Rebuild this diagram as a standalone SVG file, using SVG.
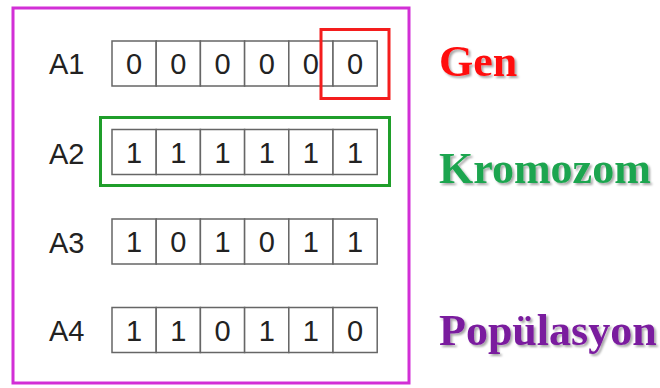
<svg xmlns="http://www.w3.org/2000/svg" width="660" height="388" viewBox="0 0 660 388">
<style>
.cell{fill:#fff;stroke:#666;stroke-width:1.5}
.dig{font-family:"Liberation Sans",Arial,sans-serif;font-size:29px;fill:#222;text-anchor:middle}
.lab{font-family:"Liberation Sans",Arial,sans-serif;font-size:29px;fill:#222}
.big{font-family:"Liberation Serif","Times New Roman",serif;font-size:44px;font-weight:bold;filter:url(#sh)}
</style>
<defs>
<filter id="sh" x="-10%" y="-20%" width="130%" height="150%">
<feDropShadow dx="2" dy="2" stdDeviation="1.2" flood-color="#000" flood-opacity="0.35"/>
</filter>
</defs>
<rect id="population" x="13" y="8" width="396" height="375" fill="none" stroke="#d22fd6" stroke-width="3"/>
<g id="A1">
<text class="lab" x="49" y="74">A1</text>
<rect class="cell" x="112" y="41" width="44.2" height="45"/>
<rect class="cell" x="156.2" y="41" width="44.2" height="45"/>
<rect class="cell" x="200.4" y="41" width="44.2" height="45"/>
<rect class="cell" x="244.6" y="41" width="44.2" height="45"/>
<rect class="cell" x="288.8" y="41" width="44.2" height="45"/>
<rect class="cell" x="333" y="41" width="44.2" height="45"/>
<text class="dig" x="134.1" y="74">0</text>
<text class="dig" x="178.3" y="74">0</text>
<text class="dig" x="222.5" y="74">0</text>
<text class="dig" x="266.7" y="74">0</text>
<text class="dig" x="310.9" y="74">0</text>
<text class="dig" x="355.1" y="74">0</text>
</g>
<g id="A2">
<text class="lab" x="49" y="164">A2</text>
<rect class="cell" x="112" y="129.5" width="44.2" height="45"/>
<rect class="cell" x="156.2" y="129.5" width="44.2" height="45"/>
<rect class="cell" x="200.4" y="129.5" width="44.2" height="45"/>
<rect class="cell" x="244.6" y="129.5" width="44.2" height="45"/>
<rect class="cell" x="288.8" y="129.5" width="44.2" height="45"/>
<rect class="cell" x="333" y="129.5" width="44.2" height="45"/>
<text class="dig" x="134.1" y="163">1</text>
<text class="dig" x="178.3" y="163">1</text>
<text class="dig" x="222.5" y="163">1</text>
<text class="dig" x="266.7" y="163">1</text>
<text class="dig" x="310.9" y="163">1</text>
<text class="dig" x="355.1" y="163">1</text>
</g>
<g id="A3">
<text class="lab" x="49" y="253">A3</text>
<rect class="cell" x="112" y="219" width="44.2" height="45"/>
<rect class="cell" x="156.2" y="219" width="44.2" height="45"/>
<rect class="cell" x="200.4" y="219" width="44.2" height="45"/>
<rect class="cell" x="244.6" y="219" width="44.2" height="45"/>
<rect class="cell" x="288.8" y="219" width="44.2" height="45"/>
<rect class="cell" x="333" y="219" width="44.2" height="45"/>
<text class="dig" x="134.1" y="252">1</text>
<text class="dig" x="178.3" y="252">0</text>
<text class="dig" x="222.5" y="252">1</text>
<text class="dig" x="266.7" y="252">0</text>
<text class="dig" x="310.9" y="252">1</text>
<text class="dig" x="355.1" y="252">1</text>
</g>
<g id="A4">
<text class="lab" x="49" y="341">A4</text>
<rect class="cell" x="112" y="307.5" width="44.2" height="45"/>
<rect class="cell" x="156.2" y="307.5" width="44.2" height="45"/>
<rect class="cell" x="200.4" y="307.5" width="44.2" height="45"/>
<rect class="cell" x="244.6" y="307.5" width="44.2" height="45"/>
<rect class="cell" x="288.8" y="307.5" width="44.2" height="45"/>
<rect class="cell" x="333" y="307.5" width="44.2" height="45"/>
<text class="dig" x="134.1" y="340.5">1</text>
<text class="dig" x="178.3" y="340.5">1</text>
<text class="dig" x="222.5" y="340.5">0</text>
<text class="dig" x="266.7" y="340.5">1</text>
<text class="dig" x="310.9" y="340.5">1</text>
<text class="dig" x="355.1" y="340.5">0</text>
</g>
<g id="gene-box"><rect x="321" y="29.5" width="68" height="69" fill="none" stroke="#f41d1d" stroke-width="3"/></g>
<g id="chromosome-box"><rect x="100.5" y="117.5" width="289" height="68" fill="none" stroke="#1f9e2a" stroke-width="3"/></g>
<g id="labels">
<text class="big" x="439" y="76" fill="#ff1111">Gen</text>
<text class="big" x="439" y="183" fill="#1fa550">Kromozom</text>
<text class="big" x="439" y="345" fill="#7a1a9e">Popülasyon</text>
</g>
</svg>
